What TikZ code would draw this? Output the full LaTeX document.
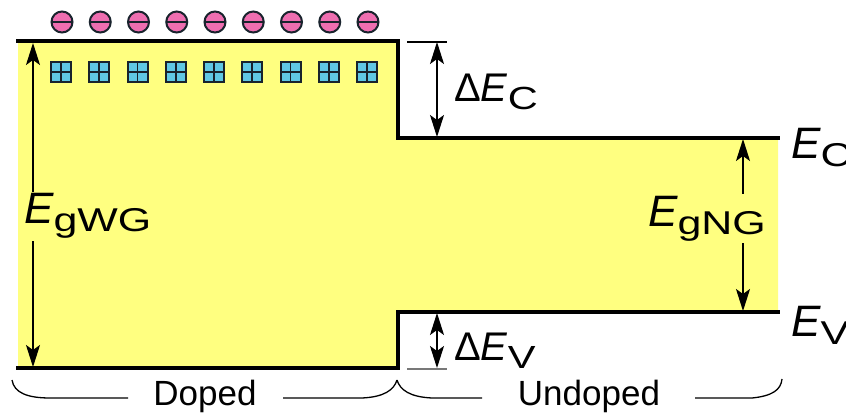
\documentclass[tikz,border=0pt]{standalone}
\usepackage{fontspec}
\setmainfont{Liberation Sans}
\usetikzlibrary{arrows.meta}
\definecolor{bandyellow}{RGB}{255,255,128}
\definecolor{epink}{RGB}{238,110,176}
\definecolor{hcyan}{RGB}{96,200,228}
\definecolor{outl}{RGB}{25,35,45}
\definecolor{tickgray}{RGB}{120,120,120}
\newcommand{\subtxt}[2]{\raisebox{-8pt}{\scalebox{1.3}[1]{\fontsize{#1}{#1}\selectfont #2}}}
\newcommand{\bigE}[1]{{\fontsize{44}{44}\selectfont\itshape E}\subtxt{33}{#1}}
\newcommand{\delE}[1]{{\fontsize{40}{40}\selectfont Δ\textit{E}}\subtxt{32}{#1}}
\tikzset{
  bandline/.style={line width=3.6pt, line cap=rect, line join=miter},
  dimarrow/.style={line width=1.6pt, {Stealth[length=22pt,width=14pt,inset=5pt]}-{Stealth[length=22pt,width=14pt,inset=5pt]}},
  tickline/.style={line width=1.5pt},
  bracel/.style={line width=1.3pt},
  lbl/.style={inner sep=0pt, anchor=base west},
  gaplbl/.style={inner sep=2pt, anchor=base west, fill=bandyellow},
  bracetext/.style={inner sep=0pt, font=\fontsize{35}{35}\selectfont},
  electron/.style={circle, draw=outl, line width=2pt, fill=epink, minimum size=21pt, inner sep=0pt,
    path picture={\draw[outl, line width=2pt] (path picture bounding box.west) -- (path picture bounding box.east);}},
  hole/.style={rectangle, draw=outl, line width=2pt, fill=hcyan, minimum size=20pt, inner sep=0pt,
    path picture={\draw[outl, line width=1.8pt] (path picture bounding box.north) -- (path picture bounding box.south)
      (path picture bounding box.west) -- (path picture bounding box.east);}}
}
\begin{document}
\begin{tikzpicture}[x=1pt, y=-1pt]
\useasboundingbox (0,0) rectangle (846,414);
% key coordinates
\coordinate (tl) at (18,41);
\coordinate (tr) at (398,41);
\coordinate (sc) at (398,138);
\coordinate (ec) at (778,138);
\coordinate (bl) at (18,368);
\coordinate (br) at (398,368);
\coordinate (sv) at (398,312);
\coordinate (ev) at (778,312);
% yellow band
\fill[bandyellow] (tl) -- (tr) -- (sc) -- (ec) -- (ev) -- (sv) -- (br) -- (bl) -- cycle;
% band edges
\draw[bandline] (tl) -- (tr) -- (sc) -- (ec);
\draw[bandline] (bl) -- (br) -- (sv) -- (ev);
% electrons and holes
\foreach \i in {1,...,9}{
  \node[electron] (e\i) at ({62+38.25*(\i-1)},22) {};
  \node[hole] (h\i) at ({61+38.25*(\i-1)},72) {};
}
% E_gWG
\coordinate (wgt) at (33,43);
\coordinate (wgb) at (33,367);
\draw[dimarrow] (wgt) -- (wgb);
\node[gaplbl] (egwg) at (22,224) {\bigE{gWG}};
% E_gNG
\coordinate (ngt) at (743,139);
\coordinate (ngb) at (743,311);
\draw[dimarrow] (ngt) -- (ngb);
\node[gaplbl] (egng) at (646,226) {\bigE{gNG}};
% Delta E_C
\coordinate (dct0) at (407,42);
\coordinate (dct1) at (447,42);
\coordinate (dca) at (437,42);
\coordinate (dcb) at (437,137);
\draw[tickline] (dct0) -- (dct1);
\draw[dimarrow] (dca) -- (dcb);
\node[lbl] (dec) at (454,102) {\delE{C}};
% Delta E_V
\coordinate (dva) at (437,313);
\coordinate (dvb) at (437,368);
\coordinate (dvt0) at (407,369);
\coordinate (dvt1) at (447,369);
\draw[tickline, tickgray] (dvt0) -- (dvt1);
\draw[dimarrow] (dva) -- (dvb);
\node[lbl] (dev) at (454,360) {\delE{V}};
% band labels
\node[lbl] (lec) at (791,159) {\bigE{C}};
\node[lbl] (lev) at (791,336) {\bigE{V}};
% braces
\coordinate (b1) at (12,380);
\coordinate (b2) at (50,398);
\coordinate (b3) at (128,398);
\coordinate (b4) at (283,398);
\coordinate (b5) at (362,398);
\coordinate (b6) at (397,380);
\coordinate (b7) at (432,398);
\coordinate (b8) at (482,398);
\coordinate (b9) at (695,398);
\coordinate (b10) at (752,398);
\coordinate (b11) at (782,379);
\draw[bracel] (b1) .. controls (14,393) and (28,398) .. (b2) -- (b3);
\draw[bracel] (b4) -- (b5) .. controls (384,397) and (394,390) .. (b6);
\draw[bracel] (b6) .. controls (400,390) and (410,397) .. (b7) -- (b8);
\draw[bracel] (b9) -- (b10) .. controls (772,396) and (781,390) .. (b11);
\node[bracetext] (doped) at (205,396) {Doped};
\node[bracetext] (undoped) at (589,396) {Undoped};
\end{tikzpicture}
\end{document}
